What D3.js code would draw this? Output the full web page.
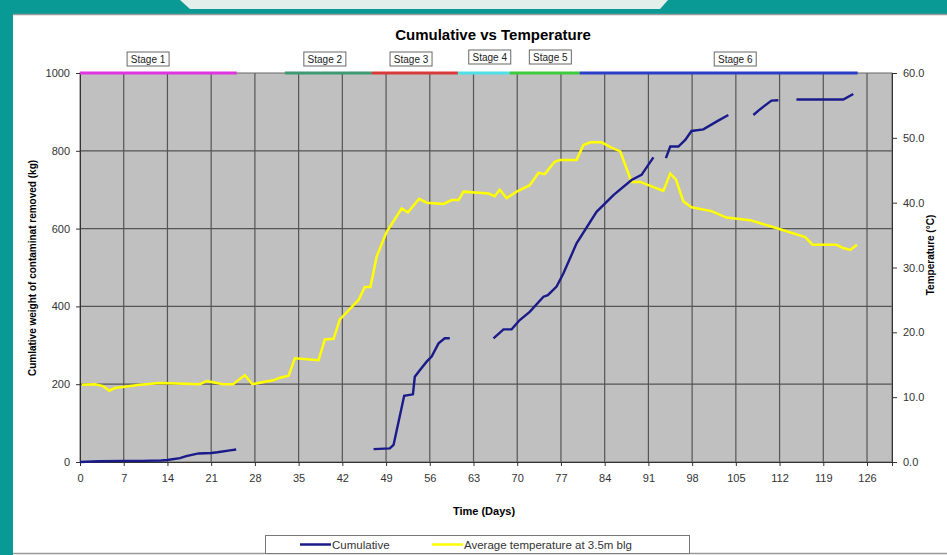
<!DOCTYPE html>
<html>
<head>
<meta charset="utf-8">
<script src="https://cdn.jsdelivr.net/npm/d3@7"></script>
<style>
  body { margin: 0; background: #fff; }
  svg { display: block; }
  .tick text { font-family: "Liberation Sans Narrow", "Arial Narrow", "Liberation Sans", sans-serif; font-size: 11px; fill: #333; }
</style>
</head>
<body>
<script>
// cumulative contaminant removed (kg), null = gap in record
var cumDays = [0, 3, 7, 10, 13, 14, 16, 17, 19, 21, 22, 24, 25, null,
  47, 49.6, 50.2, 51.9, 53.3, 53.6, 54.4, 55.5, 56.3, 57.4, 58.4, 59.2, null,
  66.2, 67.8, 69.1, 70.4, 72, 74.2, 74.9, 76.3, 77.4, 79.5, 82.7, 85.4, 88.3, 89.9, 91.8, null,
  93.8, 94.5, 95.8, 96.9, 97.9, 99.8, 101.9, 103.8, null,
  107.8, 108.9, 110.7, 111.8, null,
  114.7, 122.2, 123.8];
var cumValues = [0, 2, 3, 3, 4, 5, 10, 15, 22, 23, 25, 30, 32, null,
  33, 35, 44, 170, 174, 219, 236, 258, 271, 305, 318, 318, null,
  318, 341, 341, 365, 386, 425, 429, 451, 485, 562, 643, 686, 725, 738, 783, null,
  781, 811, 811, 828, 851, 855, 875, 892, null,
  892, 907, 929, 930, null,
  932, 932, 946];

// average temperature at 3.5m blg (deg C)
var tempDays = [0.3, 2.4, 3.7, 4.7, 5.6, 9.6, 12.8, 19.2, 20.3, 21.9, 22.9, 24.5, 26.4, 27.6, 30.9, 32.0,
  33.4, 34.4, 38.2, 39.2, 40.6, 41.6, 44.6, 45.6, 46.5, 47.5, 49.1, 51.5, 52.5, 54.3, 55.5, 58.2,
  59.5, 60.6, 61.4, 65.4, 66.4, 67.2, 68.3, 69.9, 72.0, 73.4, 74.4, 76.0, 76.8, 79.5, 80.6, 81.7,
  83.5, 85.1, 86.5, 88.3, 89.7, 91.0, 93.4, 94.5, 95.4, 96.6, 97.9, 101.1, 103.5, 107.3, 112.1,
  116.1, 117.3, 121.1, 122.2, 123.3, 124.4];
var tempValues = [11.9, 12.0, 11.7, 11.0, 11.4, 11.9, 12.2, 12.0, 12.5, 12.2, 12.0, 12.0, 13.4, 12.0, 12.6, 13.0,
  13.3, 16.0, 15.7, 18.9, 19.0, 22.0, 25.0, 27.0, 27.0, 31.7, 35.5, 39.1, 38.5, 40.6, 40.0, 39.8,
  40.4, 40.4, 41.7, 41.4, 41.0, 42.0, 40.7, 41.7, 42.7, 44.6, 44.4, 46.3, 46.6, 46.6, 48.9, 49.3,
  49.3, 48.5, 47.9, 43.2, 43.2, 42.7, 41.8, 44.5, 43.6, 40.2, 39.3, 38.7, 37.7, 37.3, 35.9,
  34.7, 33.5, 33.5, 33.0, 32.7, 33.5];

// treatment stages (days)
var stageNames = ["Stage 1", "Stage 2", "Stage 3", "Stage 4", "Stage 5", "Stage 6"];
var stageStart = [0, 32.8, 46.7, 60.5, 68.8, 80];
var stageEnd = [25.1, 46.7, 60.5, 68.8, 80, 124.5];
var stageLabelDay = [10.9, 39.2, 53, 65.6, 75.3, 104.9];
var stageColors = ["#e034e0", "#3f9a72", "#d83a3a", "#4fe0e8", "#3ccc3c", "#2a3fc8"];

var xTicks = d3.range(0, 127, 7);
var yTicks = [0, 200, 400, 600, 800, 1000];
var tTicks = [0, 10, 20, 30, 40, 50, 60];

var W = 947, H = 555;
var pL = 80, pR = 892, pT = 73, pB = 462;

var svg = d3.select("body").append("svg")
  .attr("width", W)
  .attr("height", H);

// frame
svg.append("rect").attr("x", 0).attr("y", 0).attr("width", W).attr("height", 14).attr("fill", "#0a9a96");
svg.append("path").attr("d", "M180,0 L668,0 L660,9 L190,9 Z").attr("fill", "#e3efea");
svg.append("rect").attr("x", 0).attr("y", 0).attr("width", 13).attr("height", H).attr("fill", "#0a9a96");
svg.append("line").attr("x1", 13).attr("x2", W).attr("y1", 14.5).attr("y2", 14.5).attr("stroke", "#9a9a9a").attr("stroke-width", 1.5);
svg.append("line").attr("x1", 13).attr("x2", W).attr("y1", 553.5).attr("y2", 553.5).attr("stroke", "#9a9a9a").attr("stroke-width", 1.5);

var x = d3.scaleLinear().domain([0, 130]).range([pL, pR]);
var y = d3.scaleLinear().domain([0, 1000]).range([pB, pT]);
var yT = d3.scaleLinear().domain([0, 60]).range([pB, pT]);

svg.append("rect")
  .attr("x", pL).attr("y", pT)
  .attr("width", pR - pL).attr("height", pB - pT)
  .attr("fill", "#c0c0c0");

// grid
svg.append("g").selectAll("line")
  .data(xTicks.slice(1))
  .enter().append("line")
    .attr("x1", function(d){return x(d)}).attr("x2", function(d){return x(d)})
    .attr("y1", pT).attr("y2", pB)
    .attr("stroke", "#555").attr("stroke-width", 1.2);
svg.append("g").selectAll("line")
  .data(yTicks.slice(1, -1))
  .enter().append("line")
    .attr("x1", pL).attr("x2", pR)
    .attr("y1", function(d){return y(d)}).attr("y2", function(d){return y(d)})
    .attr("stroke", "#555").attr("stroke-width", 1.2);
svg.append("rect")
  .attr("x", pL).attr("y", pT)
  .attr("width", pR - pL).attr("height", pB - pT)
  .attr("fill", "none").attr("stroke", "#666").attr("stroke-width", 1);

// axes
var xAxis = d3.axisBottom(x).tickValues(xTicks).tickSize(4).tickPadding(8);
var yAxis = d3.axisLeft(y).tickValues(yTicks).tickSize(4).tickPadding(6).tickFormat(d3.format("d"));
var tAxis = d3.axisRight(yT).tickValues(tTicks).tickSize(5).tickPadding(6).tickFormat(d3.format(".1f"));

function darken(g) {
  g.select(".domain").attr("stroke", "#333");
  g.selectAll(".tick line").attr("stroke", "#333");
}
svg.append("g").attr("transform", "translate(0," + pB + ")").call(xAxis).call(darken);
svg.append("g").attr("transform", "translate(" + pL + ",0)").call(yAxis).call(darken);
svg.append("g").attr("transform", "translate(" + pR + ",0)").call(tAxis).call(darken);

// stage bars
svg.append("g").selectAll("line")
  .data(stageNames)
  .enter().append("line")
    .attr("x1", function(d,i){return x(stageStart[i])})
    .attr("x2", function(d,i){return x(stageEnd[i])})
    .attr("y1", pT).attr("y2", pT)
    .attr("stroke", function(d,i){return stageColors[i]})
    .attr("stroke-width", 3);

var stageG = svg.append("g").selectAll("g")
  .data(stageNames)
  .enter().append("g")
    .attr("transform", function(d,i){return "translate(" + x(stageLabelDay[i]) + "," + ((i == 3 || i == 4) ? 57 : 59) + ")"});
stageG.append("rect")
  .attr("x", -21).attr("y", -7).attr("width", 42).attr("height", 14)
  .attr("fill", "#fff").attr("stroke", "#666").attr("stroke-width", 1);
stageG.append("text")
  .attr("text-anchor", "middle").attr("dy", "0.35em")
  .style("font-family", "'Liberation Sans Narrow', 'Arial Narrow', 'Liberation Sans', sans-serif")
  .style("font-size", "10px").attr("fill", "#222")
  .text(function(d){return d});

// series
var cumLine = d3.line()
  .defined(function(d){return d[1] !== null})
  .x(function(d){return x(d[0])})
  .y(function(d){return y(d[1])});
var tempLine = d3.line()
  .x(function(d){return x(d[0])})
  .y(function(d){return yT(d[1])});

svg.append("path")
  .datum(tempDays.map(function(d,i){return [d, tempValues[i]]}))
  .attr("d", tempLine)
  .attr("fill", "none").attr("stroke", "#ffff00").attr("stroke-width", 2.5);
svg.append("path")
  .datum(cumDays.map(function(d,i){return [d, cumValues[i]]}))
  .attr("d", cumLine)
  .attr("fill", "none").attr("stroke", "#1a1a8a").attr("stroke-width", 2.4);

// titles
svg.append("text")
  .attr("x", 493).attr("y", 40).attr("text-anchor", "middle")
  .style("font-family", "'Liberation Sans', Arial, sans-serif")
  .style("font-size", "15px").style("font-weight", "bold")
  .text("Cumulative vs Temperature");
svg.append("text")
  .attr("transform", "translate(36,268) rotate(-90)").attr("text-anchor", "middle")
  .style("font-family", "'Liberation Sans', Arial, sans-serif")
  .style("font-size", "10px").style("font-weight", "bold")
  .text("Cumlative weight of contaminat removed (kg)");
svg.append("text")
  .attr("transform", "translate(934,255) rotate(-90)").attr("text-anchor", "middle")
  .style("font-family", "'Liberation Sans', Arial, sans-serif")
  .style("font-size", "10px").style("font-weight", "bold")
  .text("Temperature (°C)");
svg.append("text")
  .attr("x", 484).attr("y", 515).attr("text-anchor", "middle")
  .style("font-family", "'Liberation Sans Narrow', 'Arial Narrow', 'Liberation Sans', sans-serif")
  .style("font-size", "11px").style("font-weight", "bold")
  .text("Time (Days)");

// legend
var legend = svg.append("g");
legend.append("rect")
  .attr("x", 265.5).attr("y", 535.5).attr("width", 424).attr("height", 18)
  .attr("fill", "#fff").attr("stroke", "#777");
var legendItems = [["Cumulative", "#1a1a8a", 300], ["Average temperature at 3.5m blg", "#ffff00", 432]];
legendItems.forEach(function(it){
  legend.append("line")
    .attr("x1", it[2]).attr("x2", it[2] + 31).attr("y1", 544.5).attr("y2", 544.5)
    .attr("stroke", it[1]).attr("stroke-width", 2.5);
  legend.append("text")
    .attr("x", it[2] + 32).attr("y", 548.5)
    .style("font-family", "'Liberation Sans Narrow', 'Arial Narrow', 'Liberation Sans', sans-serif")
    .style("font-size", "11.5px").attr("fill", "#333")
    .text(it[0]);
});
</script>
</body>
</html>
